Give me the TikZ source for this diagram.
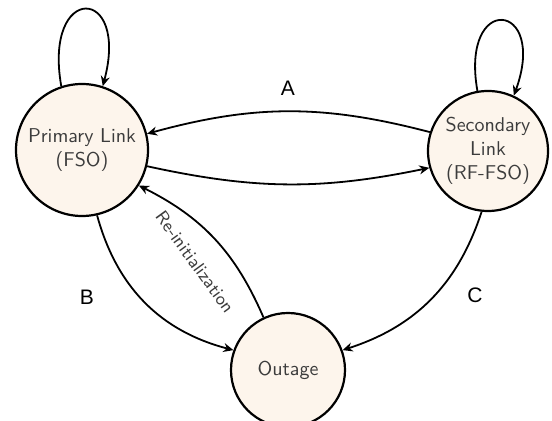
\documentclass[tikz,border=0pt]{standalone}
\usepackage{fontspec}
\newfontfamily\labelfont{Liberation Sans}
\usetikzlibrary{arrows.meta}
\definecolor{statefill}{RGB}{253,245,236}
\definecolor{statetext}{RGB}{60,60,60}
\begin{document}
\begin{tikzpicture}[
  x=0.5pt, y=0.5pt,
  every node/.style={font=\sffamily},
  state/.style={circle, draw, line width=1.1pt, fill=statefill, text=statetext, align=center, inner sep=1pt},
  link/.style={-{Stealth[length=5pt,width=4.5pt]}, line width=0.9pt},
  tag/.style={font=\labelfont\fontsize{10.5}{12}\selectfont},
]
\useasboundingbox (0,0) rectangle (552,-421);

% States
\node[state, minimum size=66pt] (primary) at (82,-150) {Primary Link\\(FSO)};
\node[state, minimum size=60pt] (secondary) at (488,-151) {Secondary\\Link\\(RF-FSO)};
\node[state, minimum size=57pt] (outage) at (288,-370) {Outage};

% Self loops
\draw[link] (primary.108) to[out=100, in=75, looseness=6.5] (primary.72);
\draw[link] (secondary.100) to[out=100, in=70, looseness=7] (secondary.65);

% Transitions
\draw[link] (secondary.162) to[bend right=15] (primary.14);
\draw[link] (primary.-14) to[bend right=12] (secondary.196);
\draw[link] (primary.-77) to[bend right=30] (outage.160);
\draw[link] (secondary.-96) to[bend left=27] (outage.20);
\draw[link] (outage.115) to[bend right=20] (primary.-32);

% Labels
\node[tag] (lblA) at (288,-88) {A};
\node[tag] (lblB) at (87,-297) {B};
\node[tag] (lblC) at (475,-295) {C};
\node[rotate=-54, text=statetext, font=\sffamily\small] (reinit) at (195,-262) {Re-initialization};

\end{tikzpicture}
\end{document}
